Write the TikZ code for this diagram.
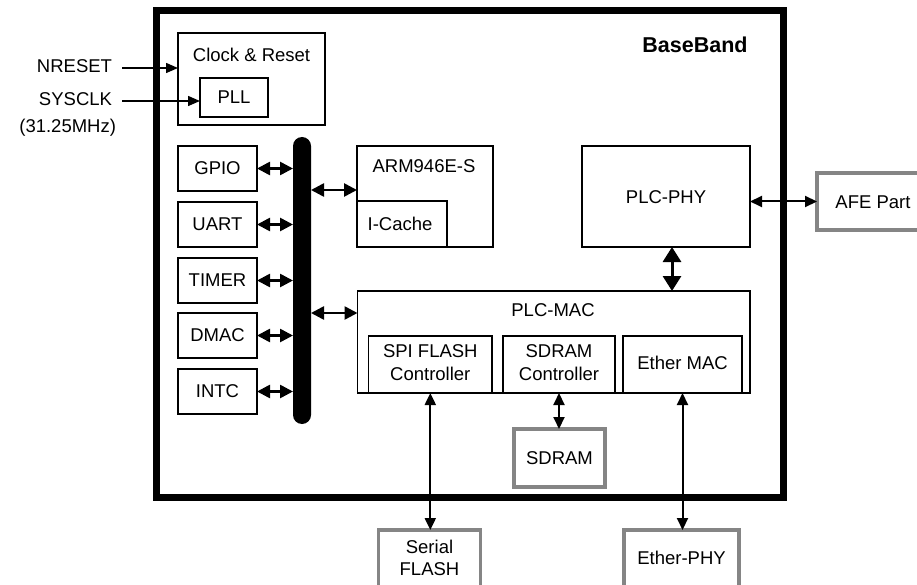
\documentclass[tikz,border=0pt]{standalone}
\usepackage{fontspec}
\setmainfont{Liberation Sans}
\usetikzlibrary{arrows.meta}
\begin{document}
\begin{tikzpicture}[x=1pt,y=-1pt,
  every node/.style={inner sep=0pt, outer sep=0pt},
  txt/.style={font=\fontsize{18.5}{23}\selectfont},
  box/.style={draw, line width=1.7pt},
  gbox/.style={draw=black!48, line width=3.4pt},
  thinarrow/.style={line width=1.4pt, -{Triangle[length=12pt,width=10pt]}},
  dblarrow/.style={line width=2pt, {Triangle[length=12pt,width=11pt]}-{Triangle[length=12pt,width=11pt]}},
  busarrow/.style={line width=2.6pt, {Triangle[length=13pt,width=13pt]}-{Triangle[length=13pt,width=13pt]}},
  bigarrow/.style={line width=3pt, {Triangle[length=15pt,width=18pt]}-{Triangle[length=15pt,width=18pt]}}
]
\useasboundingbox (0,0) rectangle (917,585);
\clip (0,0) rectangle (917,585);

% main BaseBand frame
\node[draw, line width=7pt, minimum width=627pt, minimum height=486pt] (bb) at (469.5,254) {};
\node[font=\fontsize{21.5}{24}\selectfont\bfseries] (bbl) at (695,45) {BaseBand};

% clock & reset
\node[box, minimum width=147pt, minimum height=92pt] (clk) at (251.5,79) {};
\node[txt] (clkl) at (251.5,55) {Clock \& Reset};
\node[box, txt, minimum width=68pt, minimum height=39pt] (pll) at (234,97.5) {PLL};

\node[txt, anchor=east] (nrl) at (112,66) {NRESET};
\node[txt, anchor=east] (scl) at (112,99) {SYSCLK};
\node[txt, anchor=east] (fql) at (116,128) {(31.25MHz)};
\coordinate (nr) at (122,68);
\coordinate (sc) at (122,101);
\draw[thinarrow] (nr) -- (nr -| clk.west);
\draw[thinarrow] (sc) -- (sc -| pll.west);

% bus
\node[fill=black, rounded corners=9pt, minimum width=18pt, minimum height=287pt] (bus) at (302,280.5) {};

% peripherals
\foreach \n/\t/\y in {gpio/GPIO/168.5, uart/UART/224.5, timer/TIMER/280.5, dmac/DMAC/335.5, intc/INTC/391.5}{
  \node[box, txt, minimum width=79pt, minimum height=45pt] (\n) at (217.5,\y) {\t};
  \draw[busarrow] (\n.east) -- (\n.east -| bus.west);
}

% ARM
\node[box, minimum width=136pt, minimum height=101pt] (arm) at (425,196.5) {};
\node[txt] (arml) at (424,166) {ARM946E-S};
\node[box, minimum width=90pt, minimum height=46pt] (ic) at (402,224) {};
\node[txt] (icl) at (400,224) {I-Cache};
\coordinate (armin) at (357,190);
\draw[busarrow] (armin -| bus.east) -- (armin);

% PLC-PHY
\node[box, minimum width=168pt, minimum height=101pt] (phy) at (666,196.5) {};
\node[txt] (phyl) at (666,197) {PLC-PHY};

% AFE
\node[gbox, minimum width=110pt, minimum height=57pt] (afe) at (872,201.5) {};
\node[txt] (afel) at (873,202) {AFE Part};
\draw[dblarrow] (phy.east |- afe.west) -- (afe.west);

% PLC-MAC
\node[box, minimum width=392.5pt, minimum height=102pt] (mac) at (553.75,342) {};
\node[txt] (macl) at (553,310) {PLC-MAC};
\node[box, minimum width=123.4pt, minimum height=57pt] (spi) at (430.3,364.5) {};
\node[txt, align=center] (spil) at (430.3,363) {SPI FLASH\\Controller};
\node[box, minimum width=112pt, minimum height=57pt] (sdc) at (559,364.5) {};
\node[txt, align=center] (sdcl) at (559,363) {SDRAM\\Controller};
\node[box, minimum width=119pt, minimum height=57pt] (emac) at (682.5,364.5) {};
\node[txt] (emacl) at (682.5,363) {Ether MAC};
\coordinate (macin) at (357.5,313);
\draw[busarrow] (macin -| bus.east) -- (macin);

\draw[bigarrow] ([xshift=6pt]phy.south) -- ([xshift=6pt]phy.south |- mac.north);

% SDRAM
\node[gbox, txt, minimum width=91pt, minimum height=58pt] (sdram) at (559.5,458) {SDRAM};
\draw[dblarrow] (sdc.south) -- (sdc.south |- sdram.north);

% Serial FLASH
\node[gbox, minimum width=101.5pt, minimum height=80pt] (sfl) at (429.5,570) {};
\node[txt, align=center, font=\fontsize{18.5}{22}\selectfont] (sfll) at (429.5,558) {Serial\\FLASH};
\draw[dblarrow] (spi.south) -- (spi.south |- sfl.north);

% Ether-PHY
\node[gbox, minimum width=115pt, minimum height=80pt] (ephy) at (681.5,570) {};
\node[txt] (ephyl) at (681.5,558) {Ether-PHY};
\draw[dblarrow] (emac.south) -- (emac.south |- ephy.north);
\end{tikzpicture}
\end{document}
